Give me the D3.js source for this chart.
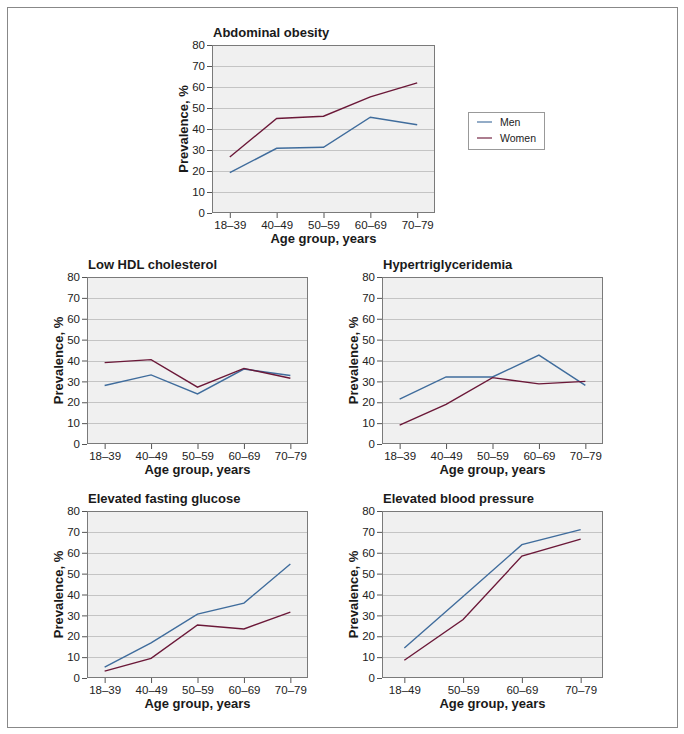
<!DOCTYPE html>
<html>
<head>
<meta charset="utf-8">
<script src="https://cdn.jsdelivr.net/npm/d3@7"></script>
<style>
  body { margin: 0; background: #fff; }
  text { font-family: "Liberation Sans", Arial, sans-serif; }
</style>
</head>
<body>
<div id="chart"></div>
<script>
(function() {

  // data
  var ageGroups = ['18–39', '40–49', '50–59', '60–69', '70–79'];
  var ageGroupsBP = ['18–49', '50–59', '60–69', '70–79'];
  var yTicks = [0, 10, 20, 30, 40, 50, 60, 70, 80];

  var obesityMen = [19.2, 30.8, 31.3, 45.6, 42.0];
  var obesityWomen = [26.7, 45.0, 46.1, 55.3, 62.0];
  var hdlMen = [28.0, 33.1, 24.0, 35.9, 32.8];
  var hdlWomen = [39.0, 40.4, 27.2, 36.2, 31.5];
  var trigMen = [21.5, 32.1, 32.1, 42.6, 28.1];
  var trigWomen = [9.0, 19.0, 31.8, 28.8, 30.0];
  var glucoseMen = [5.2, 16.8, 30.6, 35.9, 54.6];
  var glucoseWomen = [3.3, 9.4, 25.4, 23.5, 31.6];
  var bpMen = [14.4, 39.0, 63.9, 71.1];
  var bpWomen = [8.5, 28.0, 58.4, 66.5];

  var seriesNames = ['Men', 'Women'];
  var colors = { Men: '#3f6c9c', Women: '#6b1838' };

  init();

  function init() {
    var width = 684;
    var height = 734;

    var svg = d3.select('#chart')
      .append('svg')
      .attr('width', width)
      .attr('height', height);

    // outer frame
    svg.append('rect')
      .attr('x', 7.5).attr('y', 7.5)
      .attr('width', 670).attr('height', 720)
      .attr('fill', 'none')
      .attr('stroke', '#888')
      .attr('stroke-width', 1);

    var pw = 223, ph = 168;

    drawPanel(svg, 212, 45, pw, ph, 'Abdominal obesity', ageGroups, obesityMen, obesityWomen);
    drawPanel(svg, 87, 277, pw - 2, ph - 1, 'Low HDL cholesterol', ageGroups, hdlMen, hdlWomen);
    drawPanel(svg, 382, 277, pw - 2, ph - 1, 'Hypertriglyceridemia', ageGroups, trigMen, trigWomen);
    drawPanel(svg, 87, 511, pw - 2, ph - 1, 'Elevated fasting glucose', ageGroups, glucoseMen, glucoseWomen);
    drawPanel(svg, 382, 511, pw - 2, ph - 1, 'Elevated blood pressure', ageGroupsBP, bpMen, bpWomen);

    // legend
    var legend = svg.append('g').attr('transform', 'translate(468,112)');
    legend.append('rect')
      .attr('x', 0.5).attr('y', 0.5)
      .attr('width', 76).attr('height', 37)
      .attr('fill', '#fff')
      .attr('stroke', '#999');
    seriesNames.forEach(function(name, i) {
      var y = 10 + i * 16;
      legend.append('line')
        .attr('x1', 9).attr('x2', 24)
        .attr('y1', y).attr('y2', y)
        .attr('stroke', colors[name])
        .attr('stroke-opacity', 0.75)
        .attr('stroke-width', 1.5);
      legend.append('text')
        .attr('x', 32).attr('y', y + 3.5)
        .attr('font-size', 10.5)
        .attr('fill', '#222')
        .text(name);
    });
  }

  function drawPanel(svg, left, top, w, h, title, cats, men, women) {
    var g = svg.append('g').attr('transform', 'translate(' + left + ',' + top + ')');

    var x = d3.scalePoint().domain(cats).range([0, w]).padding(0.38);
    var y = d3.scaleLinear().domain([0, 80]).range([h, 0]);

    g.append('rect')
      .attr('width', w).attr('height', h)
      .attr('fill', '#f0f0f0');

    // gridlines
    g.selectAll('.grid')
      .data(yTicks.slice(1, -1))
      .enter()
      .append('line')
      .attr('x1', 0).attr('x2', w)
      .attr('y1', function(d) { return Math.round(y(d)) + 0.5; })
      .attr('y2', function(d) { return Math.round(y(d)) + 0.5; })
      .attr('stroke', '#c4c4c4')
      .attr('stroke-width', 1.2);

    g.append('rect')
      .attr('x', 0.5).attr('y', 0.5)
      .attr('width', w - 1).attr('height', h - 1)
      .attr('fill', 'none')
      .attr('stroke', '#7a7a7a');

    var yAxis = g.append('g')
      .call(d3.axisLeft(y).tickValues(yTicks).tickSize(5).tickPadding(2));
    var xAxis = g.append('g')
      .attr('transform', 'translate(0,' + h + ')')
      .call(d3.axisBottom(x).tickSize(5).tickPadding(3));

    [yAxis, xAxis].forEach(function(a) {
      a.select('.domain').remove();
      a.selectAll('line').attr('stroke', '#555');
      a.selectAll('text')
        .attr('font-family', '"Liberation Sans", Arial, sans-serif')
        .attr('font-size', 11.5)
        .attr('fill', '#222');
    });

    var line = d3.line()
      .x(function(d, i) { return x(cats[i]); })
      .y(function(d) { return y(d); });

    [['Men', men], ['Women', women]].forEach(function(s) {
      g.append('path')
        .datum(s[1])
        .attr('fill', 'none')
        .attr('stroke', colors[s[0]])
        .attr('stroke-width', 1.4)
        .attr('d', line);
    });

    g.append('text')
      .attr('x', 1).attr('y', -8)
      .attr('font-size', 13)
      .attr('font-weight', 'bold')
      .attr('fill', '#1a1a1a')
      .text(title);

    g.append('text')
      .attr('x', w / 2).attr('y', h + 30)
      .attr('text-anchor', 'middle')
      .attr('font-size', 13)
      .attr('font-weight', 'bold')
      .attr('fill', '#1a1a1a')
      .text('Age group, years');

    g.append('text')
      .attr('transform', 'translate(-24,' + (h / 2) + ') rotate(-90)')
      .attr('text-anchor', 'middle')
      .attr('font-size', 13)
      .attr('font-weight', 'bold')
      .attr('fill', '#1a1a1a')
      .text('Prevalence, %');
  }

})();
</script>
</body>
</html>
